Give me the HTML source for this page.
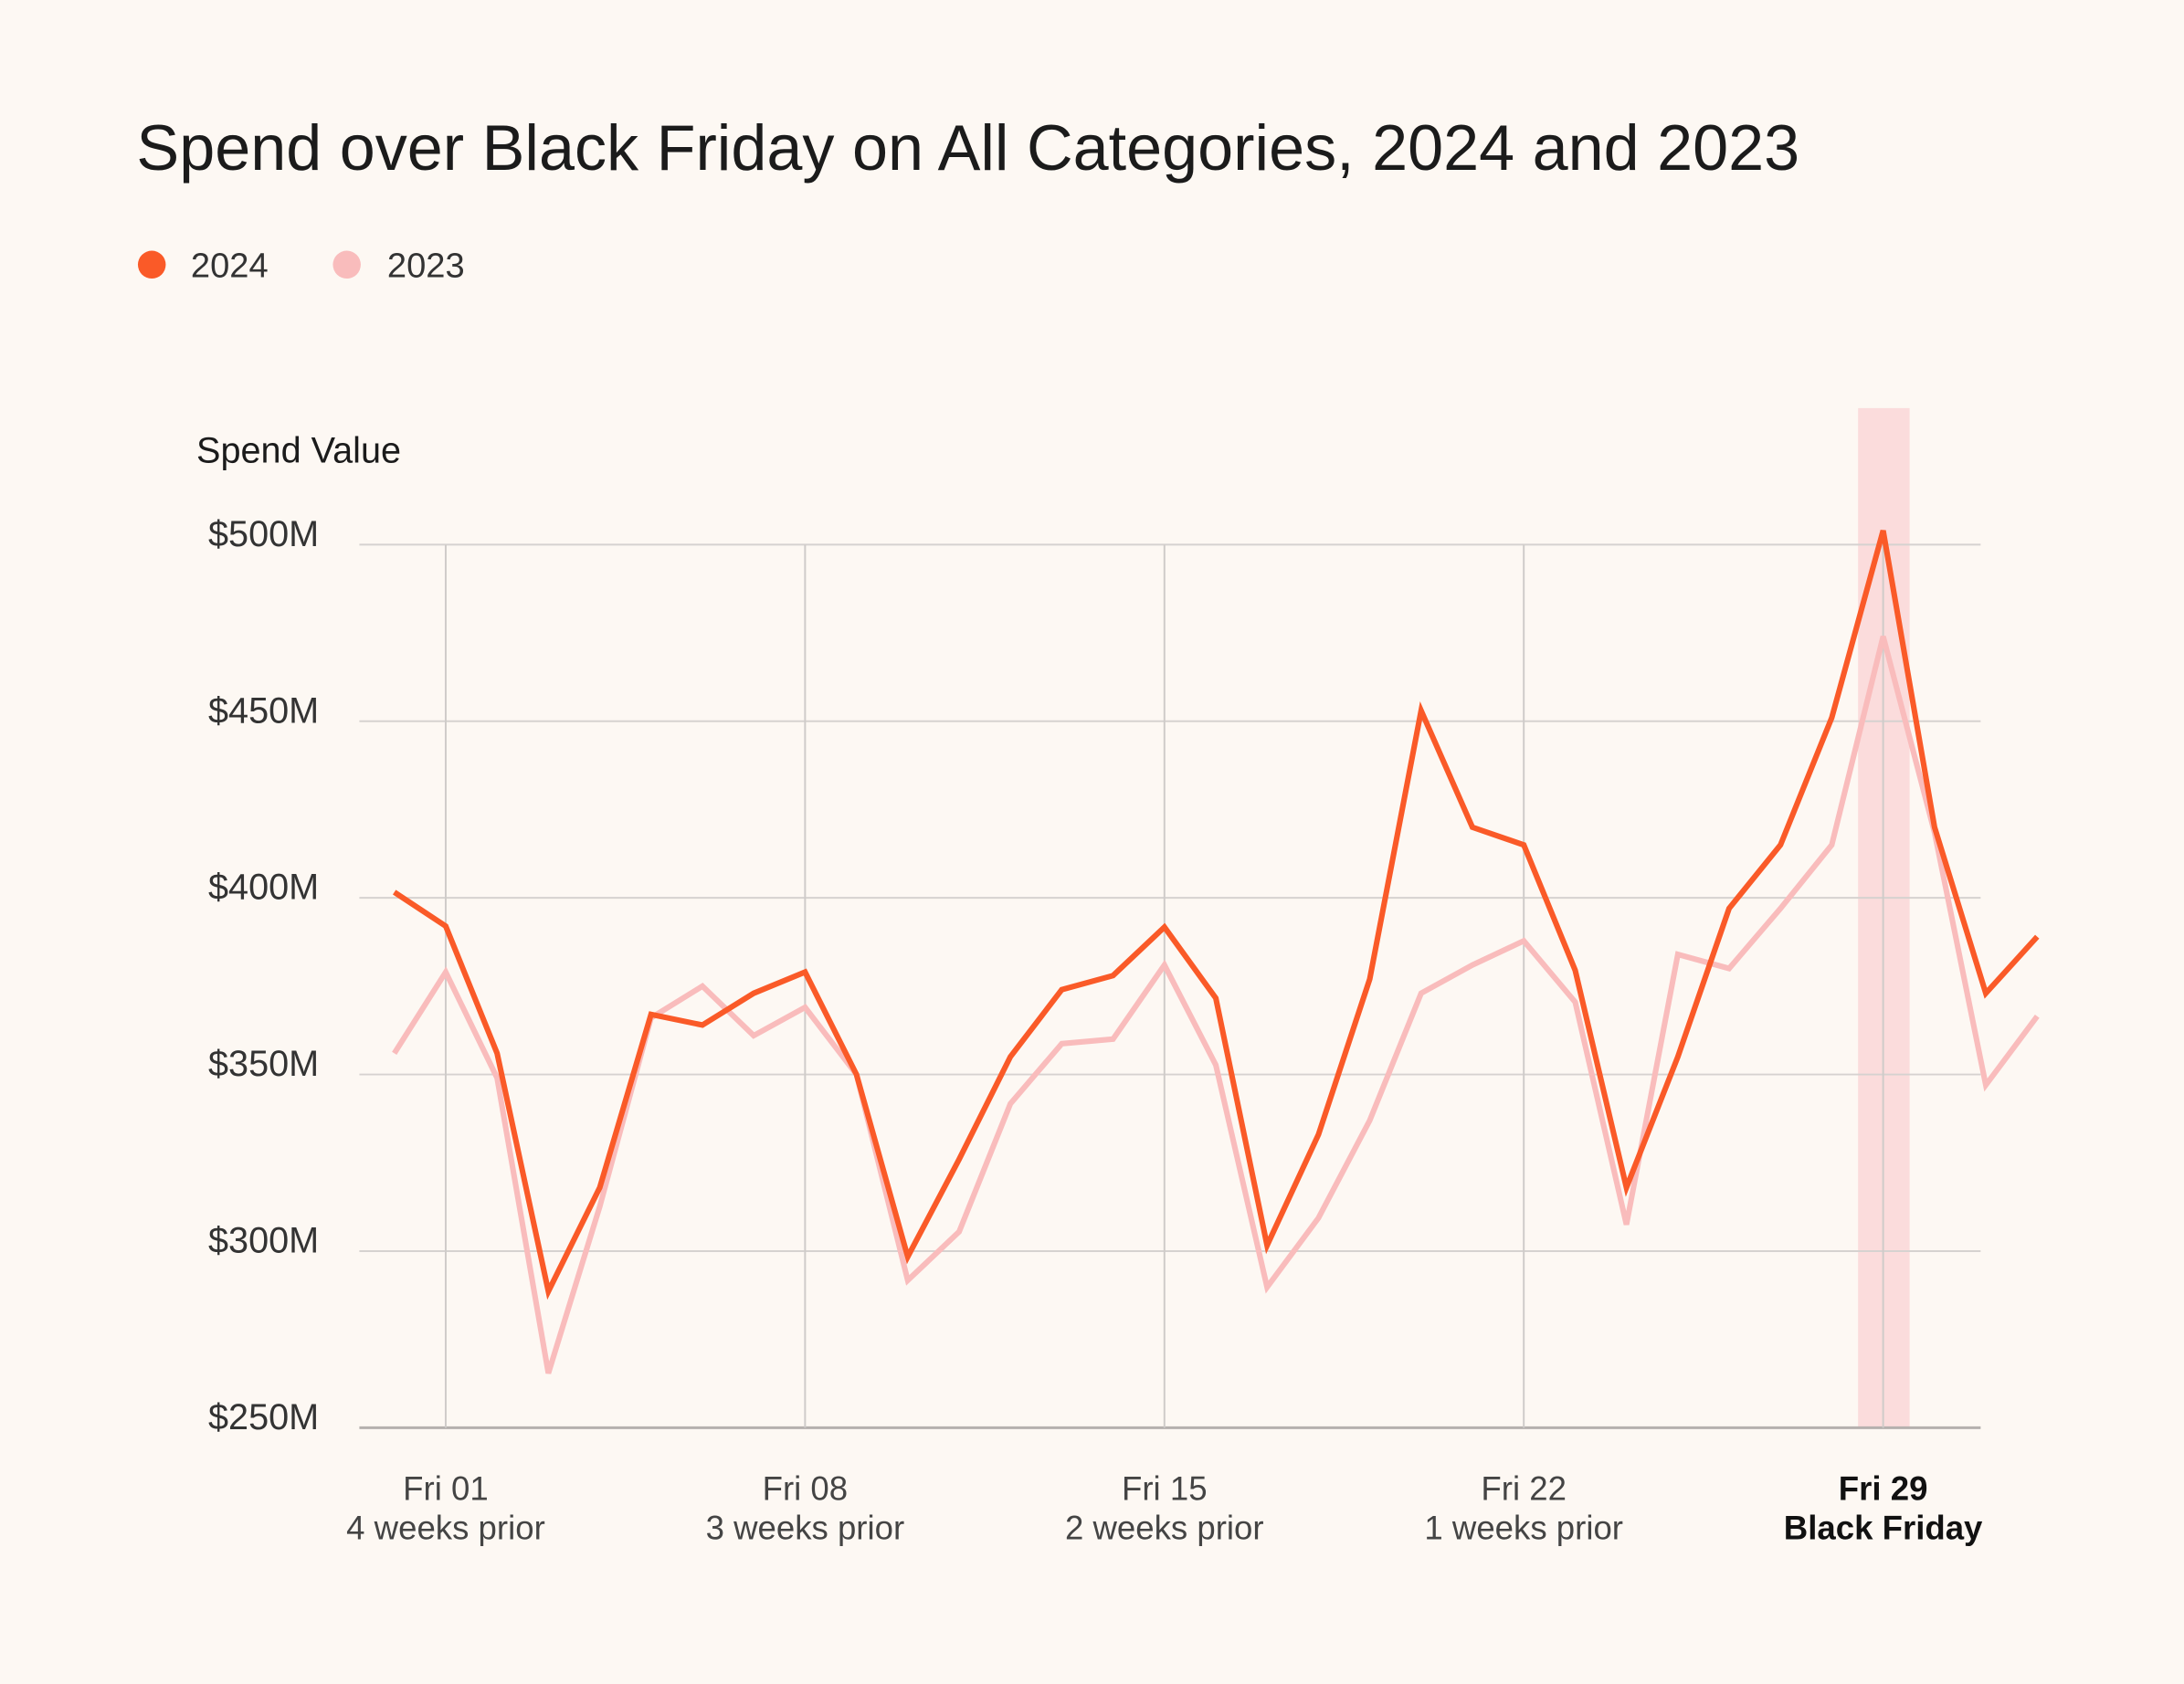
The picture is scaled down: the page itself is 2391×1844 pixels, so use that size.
<!DOCTYPE html>
<html><head><meta charset="utf-8"><style>
html,body{margin:0;padding:0;background:#fdf8f3;}
svg{display:block;font-family:"Liberation Sans",sans-serif;}
</style></head><body>
<svg id="chart" width="2391" height="1844" viewBox="0 0 1568 1209" preserveAspectRatio="none">
<rect x="0" y="0" width="1568" height="1209" fill="#fdf8f3"/>
<text x="98" y="122" font-size="46" fill="#1b1b1b" textLength="1194" lengthAdjust="spacingAndGlyphs">Spend over Black Friday on All Categories, 2024 and 2023</text>
<g>
<circle cx="109" cy="190" r="10" fill="#fa5a28"/>
<text x="137" y="199" font-size="25" fill="#333">2024</text>
<circle cx="249" cy="190" r="10" fill="#f9bcbc"/>
<text x="278" y="199" font-size="25" fill="#333">2023</text>
</g>
<text x="141" y="332" font-size="26" fill="#1b1b1b">Spend Value</text>
<rect x="1334" y="293" width="37" height="732" fill="#fbdcdc"/>
<g id="grid"></g>
<g id="series"></g>
<g id="labels"></g>
</svg>
<script>
const days = [0,1,2,3,4,5,6,7,8,9,10,11,12,13,14,15,16,17,18,19,20,21,22,23,24,25,26,27,28,29,30,31,32];
const spend2024 = [401.6,392,356,288.6,318,367,364,373,379,350,298.4,326,355,374,378,391.7,371.6,301.6,333,377,453,420,415,379.5,318,355,397,415,451,504,420,373,389];
const spend2023 = [356,379,349,265.4,312.6,366,375,361,369,350,291.7,305.5,341.7,358.7,360,381,352.7,289.8,309.4,337,373,381,387.8,370.5,307.5,384,380,397,415,474,418.5,347,366.5];
const yTicks = [250,300,350,400,450,500];
const yTickLabels = ["$250M","$300M","$350M","$400M","$450M","$500M"];
const xTickDays = [1,8,15,22,29];
const xTickLine1 = ["Fri 01","Fri 08","Fri 15","Fri 22","Fri 29"];
const xTickLine2 = ["4 weeks prior","3 weeks prior","2 weeks prior","1 weeks prior","Black Friday"];

const NS="http://www.w3.org/2000/svg";
const xS = d => 320 + (d-1)*36.857;
const yS = v => 1025 - (v-250)*(634/250);
const grid=document.getElementById('grid'), series=document.getElementById('series'), labels=document.getElementById('labels');
function mk(tag, attrs, parent){const e=document.createElementNS(NS,tag);for(const k in attrs)e.setAttribute(k,attrs[k]);parent.appendChild(e);return e;}

yTicks.forEach((v,i)=>{
  const l=mk('line',{x1:258,x2:1422,y1:yS(v),y2:yS(v),stroke:i===0?'#b5b0ae':'#d6d2d0','stroke-width':i===0?2:1.3},grid);
  
  
  const t=mk('text',{x:229,y:yS(v)+1,'font-size':26,fill:'#333','text-anchor':'end'},labels);
  t.textContent=yTickLabels[i];
  
  
});
xTickDays.forEach((d,i)=>{
  const l=mk('line',{x1:xS(d),x2:xS(d),y1:yS(500),y2:yS(250),stroke:'#cfcbc9','stroke-width':1.3},grid);
  
  
  const bold=i===xTickDays.length-1;
  const t1=mk('text',{x:xS(d),y:1077,'font-size':24,fill:bold?'#111':'#444','text-anchor':'middle','font-weight':bold?'bold':'normal'},labels);
  t1.textContent=xTickLine1[i];
  
  
  const t2=mk('text',{x:xS(d),y:1105,'font-size':24,fill:bold?'#111':'#444','text-anchor':'middle','font-weight':bold?'bold':'normal'},labels);
  t2.textContent=xTickLine2[i];
  
  
});
function line(vals){
  return vals.map((v,i)=>xS(days[i]).toFixed(1)+','+yS(v).toFixed(1)).join(' ');
}
const p23=mk('polyline',{points:line(spend2023),fill:'none',stroke:'#f9bcbc','stroke-width':4,'stroke-linejoin':'miter'},series);


const p24=mk('polyline',{points:line(spend2024),fill:'none',stroke:'#fa5a28','stroke-width':4,'stroke-linejoin':'miter'},series);


</script>
</body></html>
